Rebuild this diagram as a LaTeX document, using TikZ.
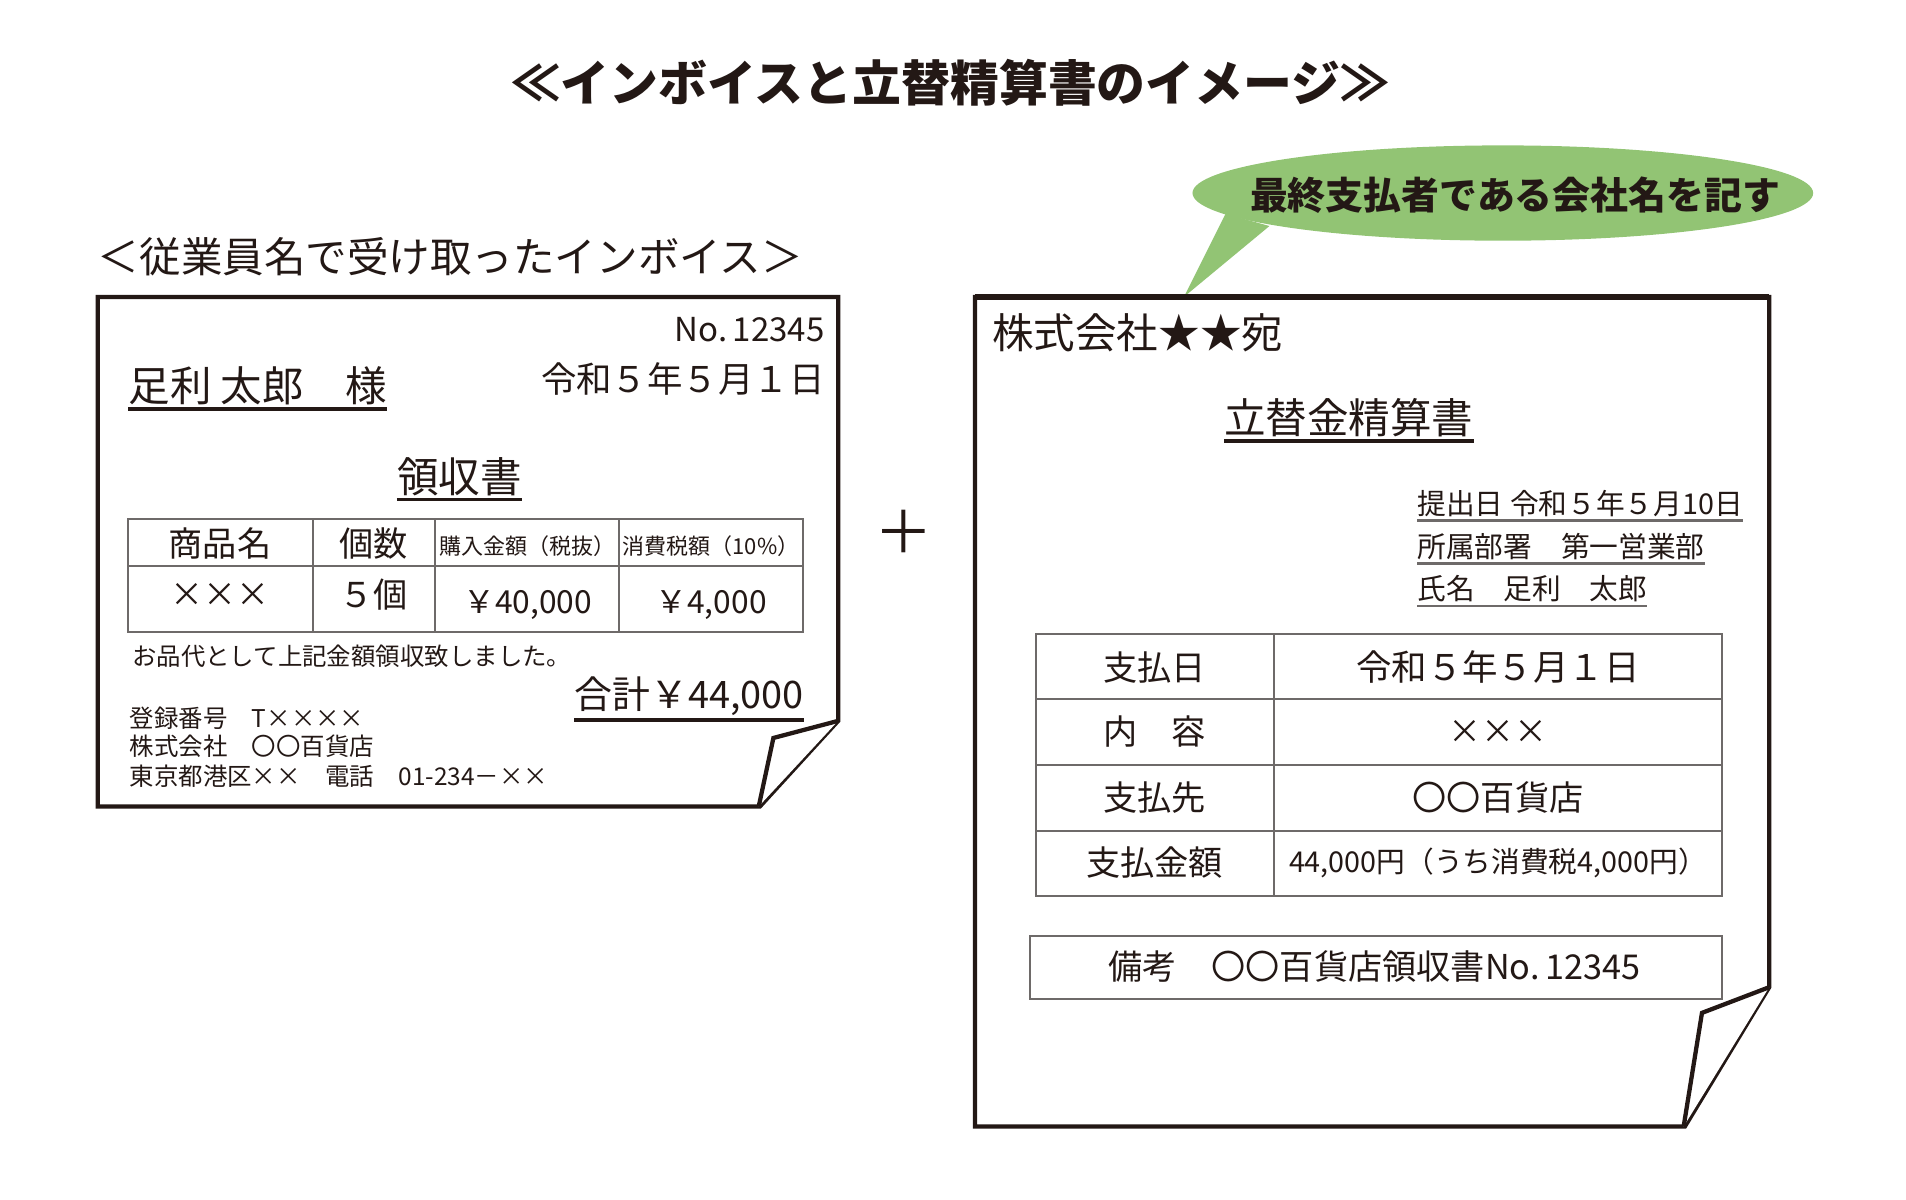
\documentclass[tikz,border=0pt]{standalone}
\usepackage{fontspec}
\setmainfont{Noto Sans CJK JP}
\usetikzlibrary{positioning}
\definecolor{ink}{HTML}{231815}
\definecolor{rulegray}{HTML}{6E6A69}
\definecolor{bubblegreen}{RGB}{146,196,116}
\newcommand{\sz}[1]{\fontsize{#1pt}{#1pt}\selectfont}
\tikzstyle{txt} = [inner sep=0pt,
                  text=ink]
\tikzstyle{sheet} = [line width=3.5pt,
                    draw=ink,
                    fill=white,
                    line join=miter]
\tikzstyle{tablerule} = [line width=1.6pt,
                        draw=rulegray]
\tikzstyle{uline} = [line width=2.8pt,
                    draw=ink]
\tikzstyle{thinline} = [line width=2pt,
                       draw=rulegray]
\begin{document}
\begin{tikzpicture}[x=1pt, y=-1pt]
    \useasboundingbox (0,0) rectangle (1560,982);
    \node (title) [txt, font=\sz{40}\bfseries] at (778,68) {≪インボイスと立替精算書のイメージ≫};

    % left sheet: the invoice
    \node (sub) [txt, anchor=west, font=\sz{34}] at (80,210) {＜従業員名で受け取ったインボイス＞};
    \draw[sheet] (80,243) -- (686,243) -- (686,590) -- (622,660) -- (80,660) -- cycle;
    \draw[sheet] (686,590) -- (633,604) -- (621,660);
    \node (no) [txt, anchor=east, font=\sz{27}] at (675,270) {No.\,12345};
    \node (date) [txt, anchor=east, font=\sz{29}] at (675,310) {令和５年５月１日};
    \node (name) [txt, anchor=west, font=\sz{34}] at (105,316) {足利 太郎　様};
    \draw[uline] ([yshift=-3pt]name.south west) -- ([yshift=-3pt]name.south east);
    \node (receipt) [txt, font=\sz{34}] at (376,390) {領収書};
    \draw[uline] ([yshift=-3pt]receipt.south west) -- ([yshift=-3pt]receipt.south east);
    \draw[tablerule] (105,425) rectangle (657,517);
    \draw[tablerule] (105,463) -- (657,463);
    \foreach \x in {256,356,507}
      \draw[tablerule] (\x,425) -- (\x,517);
    \node (item) [txt, font=\sz{28}] at (180,445) {商品名};
    \node (qty) [txt, font=\sz{28}] at (306,445) {個数};
    \node (price) [txt, font=\sz{18}] at (432,447) {購入金額（税抜）};
    \node (tax) [txt, font=\sz{18}] at (582,447) {消費税額（10\%）};
    \node (itemval) [txt, font=\sz{27}] at (180,487) {×××};
    \node (qtyval) [txt, font=\sz{28}] at (306,487) {５個};
    \node (priceval) [txt, font=\sz{26}] at (432,495) {￥40,000};
    \node (taxval) [txt, font=\sz{26}] at (582,495) {￥4,000};
    \node (memo) [txt, anchor=west, font=\sz{20}] at (108,537) {お品代として上記金額領収致しました。};
    \node (total) [txt, anchor=east, font=\sz{31}] at (658,570) {合計￥44,000};
    \draw[uline] ([yshift=-3pt]total.south west) -- ([yshift=-3pt]total.south east);
    \node (regno) [txt, anchor=west, font=\sz{20}] at (106,588) {登録番号　T××××};
    \node (shop) [txt, anchor=west, font=\sz{20}] at (106,611) {株式会社　〇〇百貨店};
    \node (addr) [txt, anchor=west, font=\sz{20}] at (106,635) {東京都港区××　電話　01-234－××};

    \node (plus) [txt, font=\sz{48}] at (740,435) {＋};

    % right sheet: the expense report
    \fill[bubblegreen] (1003,175) -- (969,243) -- (1039,185) -- cycle;
    \fill[bubblegreen] (1230,158) ellipse [x radius=254pt, y radius=39pt];
    \node (bubble) [txt, font=\sz{31}\bfseries] at (1240,160) {最終支払者である会社名を記す};
    \draw[sheet] (798,243) -- (1448,243) -- (1448,808) -- (1379,922) -- (798,922) -- cycle;
    \draw[sheet, line width=5pt] (798,243) -- (1448,243);
    \draw[sheet] (1448,808) -- (1393,829) -- (1378,922);
    \node (atena) [txt, anchor=west, font=\sz{34}] at (812,272) {株式会社★★宛};
    \node (report) [txt, font=\sz{34}] at (1104,342) {立替金精算書};
    \draw[uline] ([yshift=-3pt]report.south west) -- ([yshift=-3pt]report.south east);
    \node (filed) [txt, anchor=west, font=\sz{23.5}] at (1160,412) {提出日 令和５年５月10日};
    \node (dept) [txt, anchor=west, font=\sz{23.5}] at (1160,447) {所属部署　第一営業部};
    \node (person) [txt, anchor=west, font=\sz{23.5}] at (1160,482) {氏名　足利　太郎};
    \foreach \n in {filed,dept,person}
      \draw[thinline] ([yshift=-3pt]\n.south west) -- ([yshift=-3pt]\n.south east);
    \draw[tablerule] (848,519) rectangle (1409,733);
    \foreach \y in {572,626,680}
      \draw[tablerule] (848,\y) -- (1409,\y);
    \draw[tablerule] (1043,519) -- (1043,733);
    \node (paydate) [txt, font=\sz{28}] at (945,546) {支払日};
    \node (content) [txt, font=\sz{28}] at (945,599) {内　容};
    \node (payee) [txt, font=\sz{28}] at (945,653) {支払先};
    \node (amount) [txt, font=\sz{28}] at (945,706) {支払金額};
    \node (paydateval) [txt, font=\sz{29}] at (1226,546) {令和５年５月１日};
    \node (contentval) [txt, font=\sz{27}] at (1226,599) {×××};
    \node (payeeval) [txt, font=\sz{28}] at (1226,653) {〇〇百貨店};
    \node (amountval) [txt, font=\sz{23.5}] at (1226,706) {44,000円（うち消費税4,000円）};
    \draw[tablerule] (843,766) rectangle (1409,818);
    \node (remark) [txt, font=\sz{28}] at (1125,791) {備考　〇〇百貨店領収書No.\,12345};
\end{tikzpicture}
\end{document}
